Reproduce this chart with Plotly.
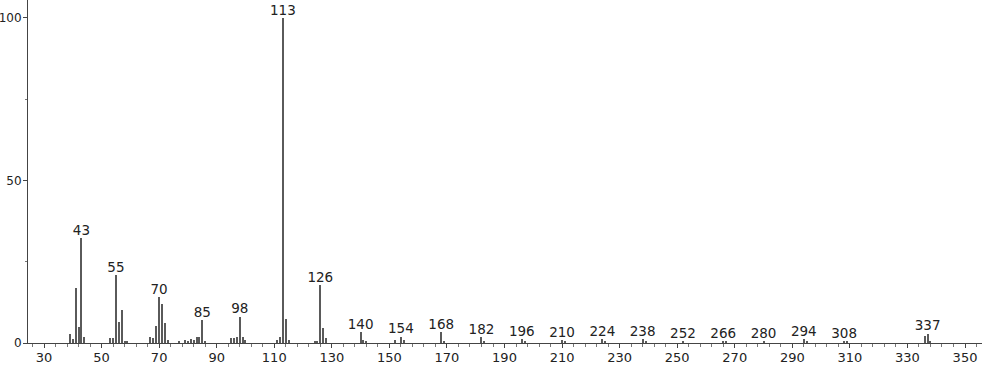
import plotly.graph_objects as go

# m/z values and relative intensities (%)
mz = [39, 40, 41, 42, 43, 44,
      53, 54, 55, 56, 57, 58, 59,
      67, 68, 69, 70, 71, 72, 73,
      77, 79, 80, 81, 82, 83, 84, 85, 86,
      95, 96, 97, 98, 99, 100,
      111, 112, 113, 114, 115,
      124, 125, 126, 127, 128,
      140, 141, 142,
      152, 154, 155,
      168, 169, 182, 183, 196, 197, 210, 211, 224, 225, 238, 239,
      252, 266, 267, 280, 294, 295, 308, 309,
      336, 337, 338]
intensity = [2.7, 1.2, 16.8, 4.8, 32.2, 1.9,
             1.4, 1.4, 20.9, 6.4, 10.2, 0.7, 0.5,
             1.7, 1.4, 5.3, 14.1, 12.0, 6.0, 0.9,
             0.6, 0.8, 0.5, 1.1, 0.9, 1.7, 1.7, 7.1, 0.6,
             1.4, 1.4, 1.7, 8.1, 1.7, 0.9,
             0.9, 1.9, 100.0, 7.4, 0.9,
             0.7, 0.7, 17.8, 4.5, 1.4,
             3.3, 0.9, 0.7,
             0.9, 2.0, 1.0,
             3.3, 0.6, 1.8, 0.5, 1.1, 0.6, 0.9, 0.4, 1.1, 0.7, 1.1, 0.5,
             0.6, 0.6, 0.4, 0.6, 1.1, 0.6, 0.6, 0.4,
             2.1, 2.9, 0.7]

# peaks that carry an m/z label
labelled = [43, 55, 70, 85, 98, 113, 126, 140, 154, 168, 182, 196, 210,
            224, 238, 252, 266, 280, 294, 308, 337]

x_tickvals = list(range(30, 351, 20))
y_tickvals = [0, 50, 100]

lookup = dict(zip(mz, intensity))
label_y = [lookup[m] for m in labelled]

font_family = "DejaVu Sans"
ink = "#222222"

fig = go.Figure()
fig.add_trace(go.Bar(
    x=mz, y=intensity, width=0.35,
    marker=dict(color="#5a5a5a", line=dict(width=0)),
    showlegend=False, hoverinfo="x+y",
))
fig.add_trace(go.Scatter(
    x=labelled, y=label_y, mode="text",
    text=[str(m) for m in labelled], textposition="top center",
    textfont=dict(family=font_family, size=13.5, color=ink),
    cliponaxis=False, showlegend=False, hoverinfo="skip",
))

fig.update_layout(
    width=982, height=365,
    margin=dict(l=28, r=0, t=0, b=22),
    paper_bgcolor="white", plot_bgcolor="white",
    bargap=0,
    font=dict(family=font_family, size=13, color=ink),
)
fig.update_xaxes(
    range=[24.44, 355.9],
    tickvals=x_tickvals, ticktext=[str(v) for v in x_tickvals],
    ticks="outside", ticklen=4, tickcolor="#444", tickwidth=1,
    minor=dict(dtick=4, tick0=30, ticks="outside", ticklen=3,
               tickcolor="#777", tickwidth=1),
    ticklabelstandoff=-2,
    showline=True, linecolor="#444", linewidth=1,
    showgrid=False, zeroline=False, automargin=False,
    tickfont=dict(family=font_family, size=13, color=ink),
)
fig.update_yaxes(
    range=[0, 105.5],
    tickvals=y_tickvals, ticktext=[str(v) for v in y_tickvals],
    ticks="outside", ticklen=4, tickcolor="#444", tickwidth=1,
    minor=dict(dtick=25, ticks="outside", ticklen=2,
               tickcolor="#777", tickwidth=1),
    ticklabelstandoff=-1,
    showline=True, linecolor="#444", linewidth=1,
    showgrid=False, zeroline=False, automargin=False,
    tickfont=dict(family=font_family, size=12, color=ink),
)

fig.write_html("out.html")
